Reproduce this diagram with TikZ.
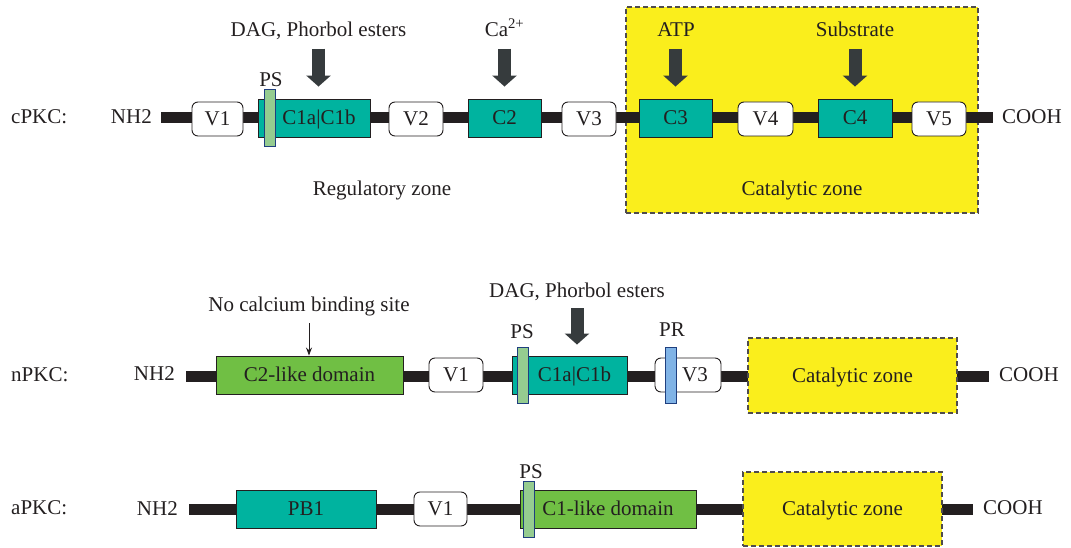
\documentclass[tikz,border=0pt]{standalone}
\usepackage{fontspec}
\setmainfont{Liberation Serif}
\usetikzlibrary{arrows.meta,positioning}
\definecolor{ink}{HTML}{231F20}
\definecolor{teal}{HTML}{00B39F}
\definecolor{leaf}{HTML}{70BF44}
\definecolor{zoneyellow}{HTML}{FAEE1C}
\definecolor{psgreen}{HTML}{95CC90}
\definecolor{prblue}{HTML}{80B3E6}
\definecolor{barblue}{HTML}{1F3F7F}
\definecolor{arrowgray}{HTML}{363B3D}

\begin{document}
\begin{tikzpicture}[x=1pt, y=-1pt, font=\fontsize{21}{25}\selectfont, text=ink,
  dom/.style={draw=ink, line width=0.9pt, minimum height=38pt, inner sep=0pt, text height=13.5pt, text depth=0pt},
  cdom/.style={dom, fill=teal},
  gdom/.style={dom, fill=leaf},
  vdom/.style={dom, fill=white, rounded corners=6pt, minimum height=34pt},
  bar/.style={draw=barblue, line width=1pt, minimum width=11pt, minimum height=56pt, inner sep=0pt},
  zone/.style={draw=ink!80, dash pattern=on 5pt off 3pt, line width=1.1pt, fill=zoneyellow, inner sep=0pt, text height=13.5pt, text depth=0pt},
  lbl/.style={inner sep=0pt, anchor=base, text depth=5pt},
  backbone/.style={line width=11pt, ink},
  bind/.style={-{Triangle[width=24pt,length=11pt]}, line width=13pt, arrowgray, shorten <=7pt, shorten >=12pt},
  pointer/.style={-{Stealth[length=8pt,width=6pt]}, line width=0.9pt, ink, shorten <=7pt}]
  \useasboundingbox (0,0) rectangle (1071,548);

  % cPKC
  \node[zone, minimum width=352pt, minimum height=206pt] (czone) at (802,110) {};
  \coordinate (cn) at (161,118);
  \coordinate (cc) at (993,118);
  \draw[backbone] (cn) -- (cc);
  \node[lbl, anchor=base west] (cname) at (11,124) {cPKC:};
  \node[lbl, anchor=base east] (cnh) at (152,124) {NH2};
  \node[lbl, anchor=base west] (ccooh) at (1002,124) {COOH};
  \node[vdom, minimum width=51pt] (cv1) at (217.5,119) {V1};
  \node[cdom, minimum width=112pt] (cc1) at (314,118) {\hspace{10pt}C1a|C1b};
  \node[bar, fill=psgreen, minimum height=57pt] (cps) at (269.5,118.5) {};
  \node[vdom, minimum width=54pt] (cv2) at (416,119) {V2};
  \node[cdom, minimum width=73pt] (cc2) at (504.5,118) {C2};
  \node[vdom, minimum width=54pt] (cv3) at (589,119) {V3};
  \node[cdom, minimum width=73pt] (cc3) at (675.5,118) {C3};
  \node[vdom, minimum width=55pt] (cv4) at (765.5,119) {V4};
  \node[cdom, minimum width=74pt] (cc4) at (855,118) {C4};
  \node[vdom, minimum width=54pt] (cv5) at (939,119) {V5};
  \node[lbl] (cpsl) at (271,87) {PS};
  \node[lbl] (cdag) at (318.5,36.5) {DAG, Phorbol esters};
  \node[lbl] (cca) at (504.5,36.5) {Ca\textsuperscript{2+}};
  \node[lbl] (catp) at (676,36.5) {ATP};
  \node[lbl] (csub) at (855,36.5) {Substrate};
  \node[lbl] (creg) at (382,196) {Regulatory zone};
  \node[lbl] (ccat) at (802,196) {Catalytic zone};
  \draw[bind] (cdag.south) -- (cdag.south |- cc1.north);
  \draw[bind] (cca.south -| cc2.north) -- (cc2.north);
  \draw[bind] (catp.south -| cc3.north) -- (cc3.north);
  \draw[bind] (csub.south -| cc4.north) -- (cc4.north);

  % nPKC
  \coordinate (nn) at (186,376);
  \coordinate (nc) at (989,376);
  \draw[backbone] (nn) -- (nc);
  \node[lbl, anchor=base west] (nname) at (11,381) {nPKC:};
  \node[lbl, anchor=base east] (nnh) at (175,380) {NH2};
  \node[lbl, anchor=base west] (ncooh) at (999,381) {COOH};
  \node[gdom, minimum width=187pt] (nc2) at (309.5,375) {C2-like domain};
  \node[vdom, minimum width=54pt] (nv1) at (456,375) {V1};
  \node[cdom, minimum width=115pt] (nc1) at (569.5,375) {\hspace{10pt}C1a|C1b};
  \node[bar, fill=psgreen] (nps) at (522.5,375) {};
  \node[vdom, minimum width=66pt] (nv3) at (688,375) {\hspace{14pt}V3};
  \node[bar, fill=prblue] (npr) at (670.5,375) {};
  \node[zone, minimum width=209pt, minimum height=75pt] (nzone) at (852.5,375.5) {Catalytic zone};
  \node[lbl] (ncal) at (309,311) {No calcium binding site};
  \node[lbl] (ndag) at (577,298) {DAG, Phorbol esters};
  \node[lbl] (npsl) at (522,338) {PS};
  \node[lbl] (nprl) at (672,336) {PR};
  \draw[pointer] (ncal.south) -- (ncal.south |- nc2.north);
  \draw[bind, shorten <=5pt, shorten >=11pt] (ndag.south) -- (ndag.south |- nc1.north);

  % aPKC
  \coordinate (an) at (189,509);
  \coordinate (ac) at (973,509);
  \draw[backbone] (an) -- (ac);
  \node[lbl, anchor=base west] (aname) at (11,514) {aPKC:};
  \node[lbl, anchor=base east] (anh) at (178,515) {NH2};
  \node[lbl, anchor=base west] (acooh) at (983,514) {COOH};
  \node[cdom, minimum width=140pt] (apb1) at (306,509) {PB1};
  \node[vdom, minimum width=53pt] (av1) at (440.5,509) {V1};
  \node[gdom, minimum width=176pt] (ac1) at (608,509) {C1-like domain};
  \node[bar, fill=psgreen] (aps) at (528.5,509) {};
  \node[zone, minimum width=199pt, minimum height=74pt] (azone) at (842.5,509) {Catalytic zone};
  \node[lbl] (apsl) at (531,478) {PS};
\end{tikzpicture}
\end{document}
